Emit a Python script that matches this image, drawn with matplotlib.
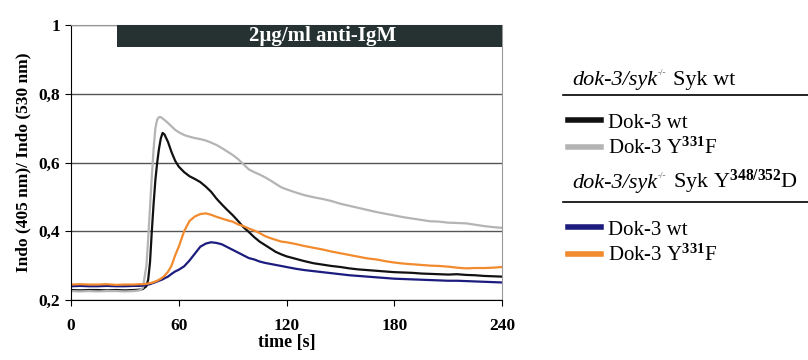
import matplotlib
matplotlib.use('Agg')
import matplotlib.pyplot as plt
from matplotlib.lines import Line2D

plt.rcParams['font.family'] = 'Liberation Serif'
plt.rcParams['mathtext.fontset'] = 'custom'
plt.rcParams['mathtext.rm'] = 'Liberation Serif'
plt.rcParams['mathtext.it'] = 'Liberation Serif:italic'
plt.rcParams['mathtext.bf'] = 'Liberation Serif:bold'

# time [s]
t = [0, 5, 10, 15, 20, 25, 30, 35, 38, 40,
     42, 43, 44, 45, 46, 47, 48, 49, 50, 51,
     52, 54, 56, 58, 60, 63, 66, 69, 72, 75,
     78, 81, 84, 87, 90, 93, 96, 99, 102, 105,
     108, 111, 114, 117, 120, 125, 130, 135, 140, 145,
     150, 155, 160, 165, 170, 175, 180, 185, 190, 195,
     200, 205, 210, 215, 220, 225, 230, 235, 240]

# Syk wt / Dok-3 wt
wt_dok_wt = [0.229, 0.228, 0.229, 0.229, 0.228, 0.229, 0.228, 0.229, 0.230, 0.232,
             0.240, 0.260, 0.310, 0.400, 0.480, 0.550, 0.600, 0.640, 0.670, 0.686,
             0.682, 0.660, 0.630, 0.605, 0.588, 0.572, 0.560, 0.552, 0.543, 0.530,
             0.515, 0.495, 0.478, 0.462, 0.447, 0.430, 0.412, 0.398, 0.383, 0.370,
             0.360, 0.350, 0.340, 0.333, 0.327, 0.320, 0.313, 0.307, 0.303, 0.299,
             0.296, 0.292, 0.289, 0.287, 0.285, 0.283, 0.281, 0.280, 0.279, 0.277,
             0.276, 0.275, 0.274, 0.275, 0.273, 0.272, 0.270, 0.269, 0.268]
# Syk wt / Dok-3 Y331F
wt_dok_yf = [0.226, 0.225, 0.226, 0.225, 0.226, 0.226, 0.225, 0.226, 0.228, 0.235,
             0.300, 0.380, 0.470, 0.560, 0.640, 0.700, 0.725, 0.732, 0.732, 0.728,
             0.724, 0.715, 0.705, 0.695, 0.688, 0.680, 0.675, 0.671, 0.668, 0.664,
             0.658, 0.651, 0.642, 0.632, 0.622, 0.610, 0.595, 0.580, 0.572, 0.565,
             0.557, 0.548, 0.538, 0.528, 0.522, 0.513, 0.505, 0.499, 0.494, 0.488,
             0.480, 0.474, 0.468, 0.462, 0.456, 0.451, 0.446, 0.441, 0.437, 0.433,
             0.429, 0.428, 0.425, 0.424, 0.423, 0.419, 0.415, 0.412, 0.410]
# Syk Y348/352D / Dok-3 wt
yd_dok_wt = [0.240, 0.241, 0.240, 0.240, 0.241, 0.240, 0.240, 0.241, 0.241, 0.242,
             0.244, 0.245, 0.246, 0.248, 0.250, 0.252, 0.254, 0.256, 0.258, 0.260,
             0.263, 0.268, 0.276, 0.283, 0.288, 0.298, 0.315, 0.335, 0.355, 0.364,
             0.368, 0.366, 0.362, 0.354, 0.346, 0.338, 0.330, 0.322, 0.318, 0.312,
             0.308, 0.305, 0.302, 0.299, 0.296, 0.291, 0.287, 0.284, 0.281, 0.278,
             0.275, 0.272, 0.270, 0.268, 0.266, 0.264, 0.262, 0.261, 0.260, 0.259,
             0.258, 0.257, 0.256, 0.256, 0.255, 0.254, 0.253, 0.252, 0.251]
# Syk Y348/352D / Dok-3 Y331F
yd_dok_yf = [0.245, 0.246, 0.245, 0.245, 0.246, 0.244, 0.245, 0.245, 0.246, 0.246,
             0.247, 0.248, 0.249, 0.250, 0.252, 0.254, 0.256, 0.259, 0.262, 0.266,
             0.270, 0.282, 0.300, 0.330, 0.355, 0.400, 0.430, 0.443, 0.450, 0.452,
             0.448, 0.442, 0.437, 0.432, 0.428, 0.420, 0.415, 0.408, 0.402, 0.395,
             0.386, 0.380, 0.375, 0.370, 0.368, 0.363, 0.357, 0.352, 0.347, 0.341,
             0.336, 0.331, 0.326, 0.321, 0.318, 0.313, 0.309, 0.306, 0.304, 0.302,
             0.300, 0.299, 0.297, 0.294, 0.292, 0.293, 0.293, 0.294, 0.296]

xticks = [0, 60, 120, 180, 240]
yticks = [0.2, 0.4, 0.6, 0.8, 1.0]
ytick_labels = ['0,2', '0,4', '0,6', '0,8', '1']

stim_start = 25.6
stim_end = 240
stim_label = '2µg/ml anti-IgM'

fig = plt.figure(figsize=(8.08, 3.6), dpi=100)
ax = fig.add_axes([71/808, 1-300/360, 431/808, 275/360])

l_black, = ax.plot(t, wt_dok_wt, color='#111111', lw=1.6)
l_gray, = ax.plot(t, wt_dok_yf, color='#b4b4b4', lw=1.6)
l_navy, = ax.plot(t, yd_dok_wt, color='#1c1c7e', lw=1.6)
l_orange, = ax.plot(t, yd_dok_yf, color='#f28a2e', lw=1.6)

ax.broken_barh([(stim_start, stim_end - stim_start)], (0.936, 0.064),
               facecolors='#263232', zorder=3)
ax.text(140, 0.969, stim_label, color='white',
        fontsize=15, fontweight='bold', ha='center', va='center', zorder=4)

ax.set_xlim(0, 240)
ax.set_ylim(0.2, 1.0)
ax.set_xticks(xticks)
ax.set_yticks(yticks)
ax.set_yticklabels(ytick_labels)
for lab in ax.get_xticklabels() + ax.get_yticklabels():
    lab.set_fontweight('bold')
ax.tick_params(axis='y', length=4, pad=4, labelsize=12.5)
ax.tick_params(axis='x', length=4, pad=9, labelsize=12.5)
ax.yaxis.grid(True, color='#555555', lw=1)
ax.set_axisbelow(True)
ax.spines['top'].set_color('#999999')
ax.spines['right'].set_color('#999999')

ax.set_xlabel('time [s]', fontsize=13, fontweight='bold', labelpad=0)
ax.set_ylabel('Indo (405 nm)/ Indo (530 nm)', fontsize=12.5, fontweight='bold', labelpad=5)

# legend headers, built piece by piece so the -/- can be tiny
renderer = fig.canvas.get_renderer()
inv = fig.transFigure.inverted()


def header(x, y, rest):
    p1 = fig.text(x, y, 'dok-3/syk', fontsize=16, style='italic', va='baseline')
    x1 = p1.get_window_extent(renderer).transformed(inv).x1
    p2 = fig.text(x1 + 1/808, y + 10/360, '-/-', fontsize=6.5, color='#555555',
                  va='baseline')
    x2 = p2.get_window_extent(renderer).transformed(inv).x1
    fig.text(x2 + 6/808, y, rest, fontsize=16, va='baseline')


header(572/808, 1-85/360, 'Syk wt')
fig.add_artist(Line2D([563/808, 1], [1-95/360, 1-95/360], color='black', lw=1.2,
                      transform=fig.transFigure))
header(572/808, 1-188/360, r'Syk Y$^{\mathbf{348/352}}$D')
fig.add_artist(Line2D([563/808, 1], [1-202/360, 1-202/360], color='black', lw=1.2,
                      transform=fig.transFigure))

labels = ['Dok-3 wt', r'Dok-3 Y$^{\mathbf{331}}$F']
leg1 = fig.legend(handles=[l_black, l_gray], labels=labels, loc='upper left',
                  bbox_to_anchor=(568/808, 1-113/360), frameon=False, borderpad=0,
                  borderaxespad=0, handlelength=1.6, handletextpad=0.3,
                  labelspacing=0.25, fontsize=15)
leg2 = fig.legend(handles=[l_navy, l_orange], labels=labels, loc='upper left',
                  bbox_to_anchor=(568/808, 1-220/360), frameon=False, borderpad=0,
                  borderaxespad=0, handlelength=1.6, handletextpad=0.3,
                  labelspacing=0.25, fontsize=15)
for leg in (leg1, leg2):
    for h in leg.get_lines():
        h.set_linewidth(4)

plt.savefig('out.png', dpi=100)
